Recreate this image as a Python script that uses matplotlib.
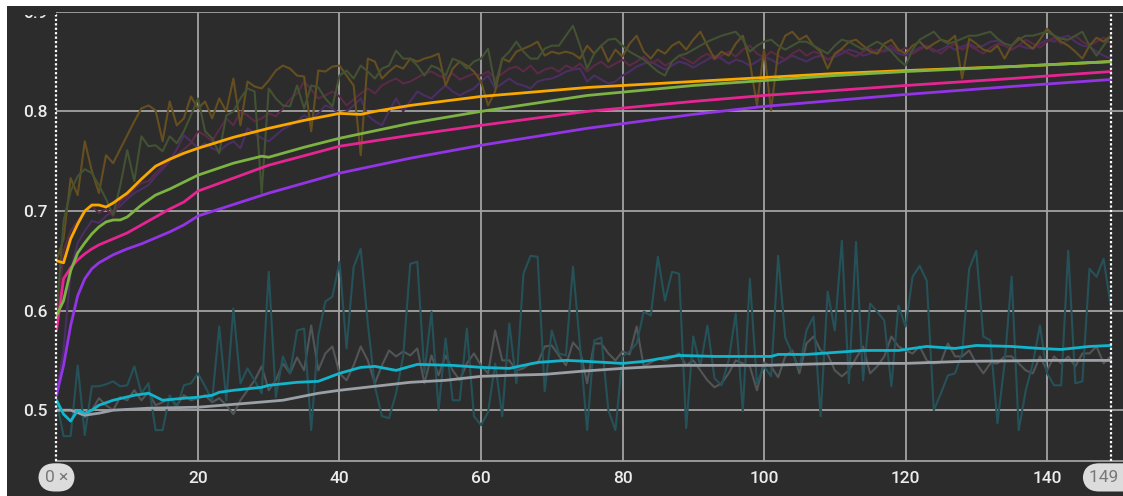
import matplotlib
matplotlib.use("Agg")
import matplotlib.pyplot as plt
from matplotlib.patches import Rectangle
from matplotlib.transforms import blended_transform_factory
import matplotlib.colors as mc
import numpy as np

plt.rcParams['font.family'] = ['Roboto', 'DejaVu Sans']

steps = np.arange(150)

raw_orange = [0.650, 0.672, 0.733, 0.716, 0.770, 0.740, 0.718, 0.756, 0.748, 0.762,
              0.776, 0.790, 0.803, 0.806, 0.801, 0.770, 0.810, 0.786, 0.793, 0.815,
              0.803, 0.810, 0.793, 0.813, 0.800, 0.833, 0.786, 0.830, 0.825, 0.823,
              0.831, 0.841, 0.846, 0.843, 0.836, 0.835, 0.780, 0.841, 0.840, 0.845,
              0.846, 0.836, 0.826, 0.756, 0.853, 0.850, 0.833, 0.840, 0.846, 0.843,
              0.853, 0.850, 0.853, 0.855, 0.858, 0.826, 0.843, 0.850, 0.846, 0.840,
              0.830, 0.806, 0.820, 0.853, 0.850, 0.860, 0.863, 0.866, 0.870, 0.856,
              0.860, 0.858, 0.860, 0.858, 0.853, 0.866, 0.858, 0.866, 0.850, 0.862,
              0.855, 0.868, 0.876, 0.860, 0.853, 0.862, 0.858, 0.866, 0.870, 0.862,
              0.872, 0.880, 0.866, 0.853, 0.860, 0.856, 0.868, 0.876, 0.850, 0.806,
              0.862, 0.801, 0.860, 0.876, 0.880, 0.872, 0.876, 0.866, 0.860, 0.843,
              0.858, 0.863, 0.870, 0.872, 0.866, 0.860, 0.858, 0.868, 0.872, 0.862,
              0.858, 0.866, 0.870, 0.863, 0.868, 0.872, 0.870, 0.876, 0.833, 0.873,
              0.868, 0.862, 0.860, 0.866, 0.853, 0.866, 0.874, 0.868, 0.863, 0.872,
              0.883, 0.876, 0.870, 0.866, 0.860, 0.853, 0.866, 0.874, 0.870, 0.876]

raw_green = [0.595, 0.690, 0.720, 0.735, 0.742, 0.738, 0.726, 0.712, 0.696, 0.725,
             0.761, 0.730, 0.775, 0.765, 0.766, 0.760, 0.775, 0.768, 0.780, 0.796,
             0.813, 0.780, 0.773, 0.758, 0.796, 0.800, 0.813, 0.823, 0.820, 0.718,
             0.823, 0.813, 0.806, 0.805, 0.826, 0.803, 0.826, 0.824, 0.813, 0.805,
             0.836, 0.841, 0.833, 0.846, 0.840, 0.833, 0.843, 0.846, 0.861, 0.853,
             0.853, 0.846, 0.836, 0.846, 0.843, 0.836, 0.853, 0.850, 0.843, 0.850,
             0.853, 0.863, 0.826, 0.853, 0.860, 0.870, 0.860, 0.853, 0.853, 0.863,
             0.866, 0.866, 0.876, 0.886, 0.866, 0.843, 0.858, 0.866, 0.872, 0.873,
             0.866, 0.860, 0.856, 0.852, 0.846, 0.840, 0.836, 0.850, 0.856, 0.858,
             0.862, 0.866, 0.870, 0.873, 0.876, 0.878, 0.880, 0.872, 0.860, 0.866,
             0.870, 0.872, 0.866, 0.862, 0.866, 0.870, 0.870, 0.866, 0.862, 0.858,
             0.866, 0.872, 0.870, 0.866, 0.862, 0.866, 0.870, 0.866, 0.860, 0.852,
             0.846, 0.862, 0.872, 0.876, 0.880, 0.872, 0.868, 0.870, 0.873, 0.876,
             0.876, 0.878, 0.880, 0.873, 0.868, 0.866, 0.872, 0.876, 0.876, 0.878,
             0.880, 0.876, 0.873, 0.872, 0.876, 0.880, 0.866, 0.856, 0.866, 0.876]

raw_pink = [0.580, 0.660, 0.680, 0.690, 0.700, 0.705, 0.698, 0.702, 0.695, 0.710,
            0.715, 0.722, 0.728, 0.730, 0.738, 0.745, 0.752, 0.756, 0.762, 0.768,
            0.780, 0.776, 0.770, 0.782, 0.793, 0.786, 0.800, 0.796, 0.790, 0.793,
            0.798, 0.795, 0.803, 0.812, 0.818, 0.830, 0.822, 0.813, 0.816, 0.820,
            0.815, 0.806, 0.812, 0.818, 0.823, 0.818, 0.826, 0.830, 0.833, 0.828,
            0.830, 0.834, 0.838, 0.840, 0.836, 0.833, 0.838, 0.832, 0.835, 0.838,
            0.836, 0.840, 0.833, 0.838, 0.843, 0.845, 0.840, 0.846, 0.838, 0.842,
            0.844, 0.840, 0.846, 0.843, 0.848, 0.840, 0.846, 0.850, 0.844, 0.848,
            0.852, 0.846, 0.850, 0.855, 0.848, 0.852, 0.846, 0.850, 0.856, 0.852,
            0.848, 0.854, 0.858, 0.852, 0.856, 0.860, 0.855, 0.862, 0.866, 0.858,
            0.854, 0.860, 0.856, 0.852, 0.858, 0.862, 0.856, 0.860, 0.858, 0.852,
            0.856, 0.862, 0.858, 0.855, 0.860, 0.863, 0.858, 0.862, 0.866, 0.860,
            0.864, 0.858, 0.862, 0.866, 0.862, 0.858, 0.864, 0.868, 0.862, 0.866,
            0.862, 0.858, 0.864, 0.868, 0.866, 0.862, 0.866, 0.872, 0.868, 0.864,
            0.870, 0.874, 0.868, 0.872, 0.876, 0.870, 0.866, 0.870, 0.874, 0.868]

raw_purple = [0.520, 0.560, 0.640, 0.668, 0.680, 0.690, 0.688, 0.695, 0.700, 0.705,
              0.712, 0.718, 0.722, 0.726, 0.735, 0.742, 0.750, 0.762, 0.776, 0.770,
              0.763, 0.768, 0.763, 0.760, 0.766, 0.770, 0.763, 0.783, 0.778, 0.773,
              0.770, 0.776, 0.782, 0.786, 0.790, 0.796, 0.792, 0.798, 0.806, 0.803,
              0.798, 0.800, 0.806, 0.813, 0.796, 0.790, 0.786, 0.800, 0.813, 0.800,
              0.810, 0.820, 0.816, 0.813, 0.820, 0.826, 0.820, 0.816, 0.820, 0.823,
              0.830, 0.836, 0.823, 0.828, 0.833, 0.828, 0.826, 0.823, 0.830, 0.832,
              0.833, 0.836, 0.840, 0.842, 0.843, 0.830, 0.836, 0.832, 0.828, 0.830,
              0.836, 0.840, 0.845, 0.848, 0.850, 0.846, 0.842, 0.846, 0.850, 0.848,
              0.844, 0.848, 0.852, 0.856, 0.853, 0.848, 0.852, 0.850, 0.846, 0.850,
              0.855, 0.852, 0.848, 0.852, 0.856, 0.853, 0.850, 0.854, 0.856, 0.852,
              0.855, 0.858, 0.862, 0.860, 0.856, 0.858, 0.862, 0.860, 0.863, 0.858,
              0.856, 0.860, 0.864, 0.865, 0.860, 0.862, 0.866, 0.862, 0.865, 0.868,
              0.864, 0.866, 0.870, 0.871, 0.866, 0.862, 0.866, 0.864, 0.863, 0.868,
              0.872, 0.870, 0.874, 0.876, 0.870, 0.866, 0.865, 0.860, 0.856, 0.853]

raw_cyan = [0.510, 0.474, 0.474, 0.545, 0.475, 0.524, 0.524, 0.526, 0.529, 0.524,
            0.525, 0.544, 0.517, 0.527, 0.480, 0.480, 0.515, 0.502, 0.525, 0.527,
            0.537, 0.524, 0.510, 0.584, 0.510, 0.602, 0.527, 0.542, 0.530, 0.517,
            0.639, 0.513, 0.554, 0.537, 0.580, 0.582, 0.480, 0.575, 0.609, 0.614,
            0.649, 0.562, 0.644, 0.662, 0.587, 0.524, 0.494, 0.492, 0.517, 0.554,
            0.647, 0.649, 0.537, 0.599, 0.500, 0.572, 0.510, 0.510, 0.582, 0.494,
            0.485, 0.498, 0.547, 0.494, 0.587, 0.527, 0.637, 0.655, 0.654, 0.519,
            0.580, 0.557, 0.555, 0.644, 0.564, 0.480, 0.570, 0.573, 0.500, 0.480,
            0.554, 0.559, 0.567, 0.599, 0.595, 0.654, 0.610, 0.639, 0.637, 0.482,
            0.574, 0.544, 0.585, 0.532, 0.525, 0.550, 0.597, 0.499, 0.632, 0.527,
            0.544, 0.534, 0.655, 0.573, 0.557, 0.542, 0.580, 0.594, 0.494, 0.619,
            0.580, 0.670, 0.527, 0.669, 0.530, 0.607, 0.599, 0.590, 0.524, 0.605,
            0.584, 0.634, 0.645, 0.630, 0.500, 0.517, 0.535, 0.537, 0.557, 0.642,
            0.660, 0.574, 0.570, 0.487, 0.547, 0.634, 0.480, 0.520, 0.547, 0.585,
            0.537, 0.525, 0.525, 0.660, 0.527, 0.529, 0.642, 0.634, 0.652, 0.605]

raw_gray = [0.500, 0.500, 0.500, 0.498, 0.493, 0.500, 0.512, 0.505, 0.500, 0.513,
            0.510, 0.520, 0.510, 0.518, 0.505, 0.508, 0.512, 0.505, 0.515, 0.510,
            0.512, 0.515, 0.508, 0.512, 0.505, 0.496, 0.510, 0.520, 0.530, 0.544,
            0.520, 0.530, 0.547, 0.537, 0.553, 0.540, 0.585, 0.540, 0.557, 0.564,
            0.537, 0.530, 0.545, 0.564, 0.550, 0.527, 0.545, 0.560, 0.554, 0.559,
            0.555, 0.562, 0.527, 0.555, 0.535, 0.555, 0.540, 0.530, 0.547, 0.557,
            0.545, 0.537, 0.580, 0.550, 0.550, 0.540, 0.542, 0.547, 0.547, 0.564,
            0.565, 0.555, 0.545, 0.568, 0.560, 0.527, 0.567, 0.567, 0.557, 0.550,
            0.559, 0.556, 0.584, 0.544, 0.548, 0.552, 0.550, 0.553, 0.557, 0.545,
            0.550, 0.540, 0.530, 0.523, 0.527, 0.537, 0.550, 0.547, 0.544, 0.520,
            0.548, 0.544, 0.533, 0.554, 0.560, 0.537, 0.567, 0.574, 0.560, 0.556,
            0.540, 0.534, 0.540, 0.552, 0.564, 0.537, 0.544, 0.554, 0.574, 0.564,
            0.560, 0.557, 0.564, 0.550, 0.547, 0.548, 0.567, 0.554, 0.554, 0.560,
            0.547, 0.537, 0.547, 0.547, 0.554, 0.554, 0.547, 0.540, 0.537, 0.554,
            0.540, 0.554, 0.547, 0.554, 0.544, 0.557, 0.557, 0.564, 0.547, 0.554]

# smoothed curves (read at knots)
sm_orange_x = [0, 1, 2, 3, 4, 5, 6, 7, 8, 10, 12, 14, 16, 18, 20, 25, 30, 35, 40, 43, 45, 50, 60, 75, 90, 100, 110, 120, 135, 149]
sm_orange = [0.650, 0.648, 0.672, 0.687, 0.700, 0.706, 0.706, 0.704, 0.708, 0.718, 0.732, 0.745, 0.752, 0.758, 0.763,
             0.774, 0.783, 0.791, 0.798, 0.797, 0.800, 0.806, 0.815, 0.824, 0.830, 0.834, 0.838, 0.841, 0.845, 0.850]

sm_green_x = [0, 1, 2, 3, 4, 5, 6, 7, 8, 9, 10, 12, 14, 16, 18, 20, 25, 29, 30, 35, 40, 50, 60, 75, 90, 100, 110, 120, 135, 149]
sm_green = [0.595, 0.610, 0.640, 0.658, 0.668, 0.677, 0.684, 0.689, 0.691, 0.691, 0.694, 0.706, 0.716, 0.722, 0.729,
            0.736, 0.748, 0.755, 0.754, 0.764, 0.773, 0.788, 0.800, 0.816, 0.826, 0.831, 0.836, 0.840, 0.845, 0.850]

sm_pink_x = [0, 1, 2, 3, 4, 5, 6, 8, 10, 12, 14, 16, 18, 20, 30, 40, 50, 60, 75, 90, 100, 110, 120, 135, 149]
sm_pink = [0.580, 0.632, 0.643, 0.651, 0.657, 0.662, 0.666, 0.672, 0.678, 0.686, 0.694, 0.702, 0.709, 0.720,
           0.746, 0.765, 0.776, 0.786, 0.800, 0.810, 0.816, 0.821, 0.826, 0.833, 0.840]

sm_purple_x = [0, 1, 2, 3, 4, 5, 6, 7, 8, 10, 12, 14, 16, 18, 20, 30, 40, 50, 60, 75, 90, 100, 110, 120, 135, 149]
sm_purple = [0.515, 0.545, 0.585, 0.615, 0.632, 0.642, 0.648, 0.652, 0.656, 0.662, 0.667, 0.673, 0.679, 0.686,
             0.695, 0.718, 0.738, 0.753, 0.766, 0.783, 0.797, 0.805, 0.811, 0.817, 0.825, 0.832]

sm_cyan_x = [0, 1, 2, 3, 4, 5, 6, 8, 11, 13, 15, 18, 20, 22, 23, 25, 29, 30, 34, 37, 40, 43, 45, 48, 51, 56,
             60, 64, 68, 72, 75, 80, 83, 88, 93, 98, 101, 102, 106, 110, 114, 119, 123, 127, 130, 135, 139, 142, 146, 149]
sm_cyan = [0.510, 0.496, 0.489, 0.500, 0.497, 0.500, 0.505, 0.510, 0.515, 0.517, 0.510, 0.512, 0.513, 0.515,
           0.518, 0.520, 0.523, 0.525, 0.528, 0.529, 0.537, 0.543, 0.544, 0.540, 0.546, 0.545, 0.543, 0.542,
           0.548, 0.550, 0.549, 0.547, 0.549, 0.555, 0.554, 0.554, 0.554, 0.556, 0.556, 0.558, 0.560, 0.560,
           0.564, 0.562, 0.565, 0.564, 0.562, 0.561, 0.564, 0.565]

sm_gray_x = [0, 2, 4, 6, 8, 13, 20, 27, 32, 37, 40, 45, 50, 55, 60, 64, 69, 74, 80, 88, 100, 110, 120, 128, 140, 149]
sm_gray = [0.500, 0.500, 0.495, 0.497, 0.500, 0.502, 0.503, 0.507, 0.510, 0.517, 0.520, 0.524, 0.528, 0.530,
           0.534, 0.535, 0.536, 0.539, 0.542, 0.545, 0.545, 0.547, 0.547, 0.549, 0.550, 0.550]

xticks = [20, 40, 60, 80, 100, 120, 140]
yticks = [0.5, 0.6, 0.7, 0.8, 0.9]
range_start, range_end = 0, 149

BG = '#2c2c2c'
C_ORANGE = '#f9a800'
C_GREEN = '#7cb342'
C_PINK = '#e52592'
C_PURPLE = '#9334e6'
C_CYAN = '#12b5cb'
C_GRAY = '#9aa0a6'
GRID = '#a3a3a3'

W, H = 1123, 496
fig = plt.figure(figsize=(W / 100, H / 100), dpi=100, facecolor=BG)
ax = fig.add_axes([55.5 / W, (H - 461) / H, 1 - 55.5 / W, (461 - 11.5) / H])
ax.set_facecolor(BG)
ax.set_xlim(-0.14, 150.74)
ax.set_ylim(0.449, 0.9003)

for s in ['top', 'right', 'left']:
    ax.spines[s].set_visible(False)
ax.spines['bottom'].set_color(GRID)
ax.spines['bottom'].set_linewidth(1.3)

ax.set_xticks(xticks)
ax.set_yticks(yticks)
ax.set_yticklabels([f"{v:.1f}" for v in yticks])
ax.tick_params(axis='both', length=0, colors='#ececec', labelsize=12.5)
ax.tick_params(axis='x', pad=7)
ax.tick_params(axis='y', pad=6)
for lab in ax.get_xticklabels() + ax.get_yticklabels():
    lab.set_fontweight('medium')
ax.grid(True, color=GRID, linewidth=1.3)
ax.set_axisbelow(True)


def faded(c, a=0.3):
    fg = np.array(mc.to_rgb(c))
    bg = np.array(mc.to_rgb(BG))
    return tuple(a * fg + (1 - a) * bg)


raw_lw = 1.5
ax.plot(steps, raw_gray, color=faded(C_GRAY, 0.35), lw=raw_lw, zorder=2)
ax.plot(steps, raw_cyan, color=faded(C_CYAN, 0.28), lw=raw_lw, zorder=2)
ax.plot(steps, raw_purple, color=faded(C_PURPLE, 0.3), lw=raw_lw, zorder=2)
ax.plot(steps, raw_pink, color=faded(C_PINK, 0.25), lw=raw_lw, zorder=2)
ax.plot(steps, raw_orange, color=faded(C_ORANGE, 0.28), lw=raw_lw, zorder=2)
ax.plot(steps, raw_green, color=faded(C_GREEN, 0.28), lw=raw_lw, zorder=2)

sm_lw = 2.0
ax.plot(sm_gray_x, sm_gray, color=C_GRAY, lw=sm_lw, zorder=3, solid_capstyle='round')
ax.plot(sm_cyan_x, sm_cyan, color=C_CYAN, lw=sm_lw, zorder=3, solid_capstyle='round')
ax.plot(sm_purple_x, sm_purple, color=C_PURPLE, lw=sm_lw, zorder=3, solid_capstyle='round')
ax.plot(sm_pink_x, sm_pink, color=C_PINK, lw=sm_lw, zorder=3, solid_capstyle='round')
ax.plot(sm_orange_x, sm_orange, color=C_ORANGE, lw=sm_lw, zorder=3, solid_capstyle='round')
ax.plot(sm_green_x, sm_green, color=C_GREEN, lw=sm_lw, zorder=3, solid_capstyle='round')

# range-selector dotted lines
for xv in (range_start, range_end):
    ax.axvline(xv, color='white', lw=1.6, linestyle=(0, (1, 1)), zorder=5, clip_on=False)

# range-selector badges
tr = blended_transform_factory(ax.transData, ax.transAxes)
badge = dict(boxstyle='round,pad=0.38,rounding_size=0.95', facecolor='#dcdcdc', edgecolor='none')
ax.text(range_start, -0.0365, f"{range_start} \u00d7", transform=tr, ha='center', va='center',
        fontsize=12.5, color='#787878', bbox=badge, clip_on=False, zorder=6)
ax.text(range_end, -0.0365, f"{range_end} \u00d7", transform=tr, ha='center', va='center',
        fontsize=12.5, color='#787878', bbox=badge, clip_on=False, zorder=6)

# hide the top part of the 0.9 label (clipped by the plot area edge)
fig.patches.append(Rectangle((0, (H - 14.5) / H), 55.5 / W, 8.5 / H, transform=fig.transFigure,
                             facecolor=BG, edgecolor='none', zorder=9))
# white page margins (top and left)
fig.patches.append(Rectangle((0, (H - 6) / H), 1, 6 / H, transform=fig.transFigure,
                             facecolor='white', edgecolor='none', zorder=10))
fig.patches.append(Rectangle((0, 0), 6.5 / W, 1, transform=fig.transFigure,
                             facecolor='white', edgecolor='none', zorder=10))

fig.savefig('out.png', dpi=100, facecolor=BG)
